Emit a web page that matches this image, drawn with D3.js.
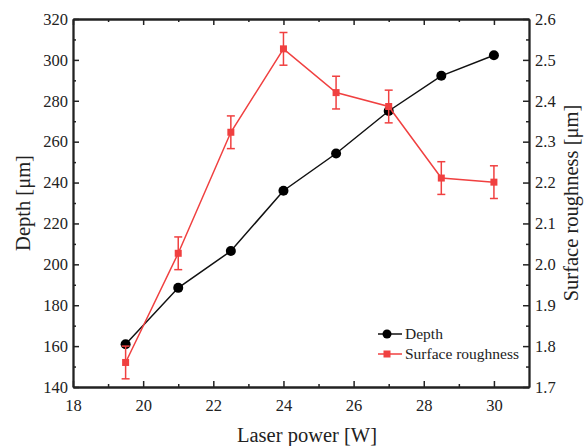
<!DOCTYPE html>
<html lang="en">
<head>
    <meta charset="UTF-8">
    <title>Depth and surface roughness vs laser power</title>
    <script src="https://cdn.jsdelivr.net/npm/d3@7"></script>
    <style>
        body { margin: 0; background: #fff; }
        text { font-family: "Liberation Serif", "Times New Roman", serif; fill: #222; }
    </style>
</head>
<body>
    <div id="chart"></div>
    <script>
        // data
        var power = [19.5, 21, 22.5, 24, 25.5, 27, 28.5, 30];
        var depth = [160.9, 188.5, 206.5, 236, 254.2, 275, 292.2, 302.3];
        var roughness = [1.76, 2.027, 2.323, 2.527, 2.42, 2.386, 2.211, 2.201];
        var roughErr = [0.04, 0.04, 0.04, 0.04, 0.04, 0.04, 0.04, 0.04];
        var xTicks = [18, 20, 22, 24, 26, 28, 30];
        var depthTicks = [140, 160, 180, 200, 220, 240, 260, 280, 300, 320];
        var roughTicks = [1.7, 1.8, 1.9, 2.0, 2.1, 2.2, 2.3, 2.4, 2.5, 2.6];

        var width = 585, height = 446,
            margin = {top: 19, right: 56, bottom: 59, left: 73},
            g_width = width - margin.left - margin.right,
            g_height = height - margin.top - margin.bottom;

        var red = "#f04040";

        var svg = d3.select("#chart")
                    .append("svg")
                    .attr("width", width)
                    .attr("height", height);

        var g = svg.append("g")
                   .attr("transform", "translate(" + margin.left + "," + margin.top + ")");

        // scales
        var x = d3.scaleLinear().domain([18, 31]).range([0, g_width]);
        var y = d3.scaleLinear().domain([140, 320]).range([g_height, 0]);
        var y2 = d3.scaleLinear().domain([1.7, 2.6]).range([g_height, 0]);

        function styleAxis(sel) {
            sel.select(".domain").attr("stroke", "#222").attr("stroke-width", 1.8);
            sel.selectAll(".tick line").attr("stroke", "#222").attr("stroke-width", 1.5);
            sel.selectAll(".tick text").style("font-size", "16.5px")
               .style("font-family", "'Liberation Serif', serif").attr("fill", "#222");
        }

        // minor ticks first
        var xMinor = d3.range(19, 31, 2);
        var yMinor = d3.range(150, 320, 20);
        var y2Minor = d3.range(1.75, 2.6, 0.1);

        g.append("g").attr("transform", "translate(0," + g_height + ")")
            .call(d3.axisBottom(x).tickValues(xMinor).tickSizeInner(-3).tickSizeOuter(0).tickFormat(""))
            .call(styleAxis);
        g.append("g")
            .call(d3.axisTop(x).tickValues(xMinor).tickSizeInner(-3).tickSizeOuter(0).tickFormat(""))
            .call(styleAxis);
        g.append("g")
            .call(d3.axisLeft(y).tickValues(yMinor).tickSizeInner(-3).tickSizeOuter(0).tickFormat(""))
            .call(styleAxis);
        g.append("g").attr("transform", "translate(" + g_width + ",0)")
            .call(d3.axisRight(y2).tickValues(y2Minor).tickSizeInner(-3).tickSizeOuter(0).tickFormat(""))
            .call(styleAxis);

        // major axes
        g.append("g").attr("transform", "translate(0," + g_height + ")")
            .call(d3.axisBottom(x).tickValues(xTicks).tickSizeInner(-6).tickSizeOuter(0).tickPadding(12).tickFormat(d3.format("d")))
            .call(styleAxis);
        g.append("g")
            .call(d3.axisTop(x).tickValues(xTicks).tickSizeInner(-6).tickSizeOuter(0).tickFormat(""))
            .call(styleAxis);
        g.append("g")
            .call(d3.axisLeft(y).tickValues(depthTicks).tickSizeInner(-6).tickSizeOuter(0).tickPadding(5).tickFormat(d3.format("d")))
            .call(styleAxis);
        g.append("g").attr("transform", "translate(" + g_width + ",0)")
            .call(d3.axisRight(y2).tickValues(roughTicks).tickSizeInner(-6).tickSizeOuter(0).tickPadding(6).tickFormat(d3.format(".1f")))
            .call(styleAxis);

        // depth series
        var depthLine = d3.line()
            .x(function(d, i) { return x(power[i]); })
            .y(function(d) { return y(d); });
        g.append("path")
            .attr("d", depthLine(depth))
            .attr("fill", "none")
            .attr("stroke", "#111")
            .attr("stroke-width", 1.5);
        g.selectAll(".dot")
            .data(depth)
            .enter().append("circle")
            .attr("cx", function(d, i) { return x(power[i]); })
            .attr("cy", function(d) { return y(d); })
            .attr("r", 5)
            .attr("fill", "#000");

        // roughness series
        var roughLine = d3.line()
            .x(function(d, i) { return x(power[i]); })
            .y(function(d) { return y2(d); });
        g.append("path")
            .attr("d", roughLine(roughness))
            .attr("fill", "none")
            .attr("stroke", red)
            .attr("stroke-width", 1.5);

        var eb = g.selectAll(".err")
            .data(roughness)
            .enter().append("g");
        eb.append("line")
            .attr("x1", function(d, i) { return x(power[i]); })
            .attr("x2", function(d, i) { return x(power[i]); })
            .attr("y1", function(d, i) { return y2(d + roughErr[i]); })
            .attr("y2", function(d, i) { return y2(d - roughErr[i]); })
            .attr("stroke", red).attr("stroke-width", 1.5);
        eb.append("line")
            .attr("x1", function(d, i) { return x(power[i]) - 4; })
            .attr("x2", function(d, i) { return x(power[i]) + 4; })
            .attr("y1", function(d, i) { return y2(d + roughErr[i]); })
            .attr("y2", function(d, i) { return y2(d + roughErr[i]); })
            .attr("stroke", red).attr("stroke-width", 1.5);
        eb.append("line")
            .attr("x1", function(d, i) { return x(power[i]) - 4; })
            .attr("x2", function(d, i) { return x(power[i]) + 4; })
            .attr("y1", function(d, i) { return y2(d - roughErr[i]); })
            .attr("y2", function(d, i) { return y2(d - roughErr[i]); })
            .attr("stroke", red).attr("stroke-width", 1.5);
        eb.append("rect")
            .attr("x", function(d, i) { return x(power[i]) - 3.5; })
            .attr("y", function(d) { return y2(d) - 3.5; })
            .attr("width", 7).attr("height", 7)
            .attr("fill", red);

        // legend
        var lg = svg.append("g").attr("transform", "translate(378,334)");
        lg.append("line").attr("x1", 0).attr("x2", 24).attr("y1", 0).attr("y2", 0)
            .attr("stroke", "#111").attr("stroke-width", 1.5);
        lg.append("circle").attr("cx", 9).attr("cy", 0).attr("r", 4.5).attr("fill", "#000");
        lg.append("text").attr("x", 27).attr("y", 5).style("font-size", "15.5px").text("Depth");
        lg.append("line").attr("x1", 0).attr("x2", 24).attr("y1", 20).attr("y2", 20)
            .attr("stroke", red).attr("stroke-width", 1.5);
        lg.append("rect").attr("x", 5.5).attr("y", 16.5).attr("width", 7).attr("height", 7).attr("fill", red);
        lg.append("text").attr("x", 27).attr("y", 25).style("font-size", "15.5px").text("Surface roughness");

        // axis titles
        svg.append("text")
            .attr("x", margin.left + g_width / 2 + 6)
            .attr("y", 442)
            .attr("text-anchor", "middle")
            .style("font-size", "20.5px")
            .text("Laser power [W]");
        svg.append("text")
            .attr("transform", "translate(30," + (margin.top + g_height / 2) + ") rotate(-90)")
            .attr("text-anchor", "middle")
            .style("font-size", "20.5px")
            .text("Depth [μm]");
        svg.append("text")
            .attr("transform", "translate(578," + (margin.top + g_height / 2) + ") rotate(-90)")
            .attr("text-anchor", "middle")
            .style("font-size", "20.5px")
            .text("Surface roughness [μm]");
    </script>
</body>
</html>
